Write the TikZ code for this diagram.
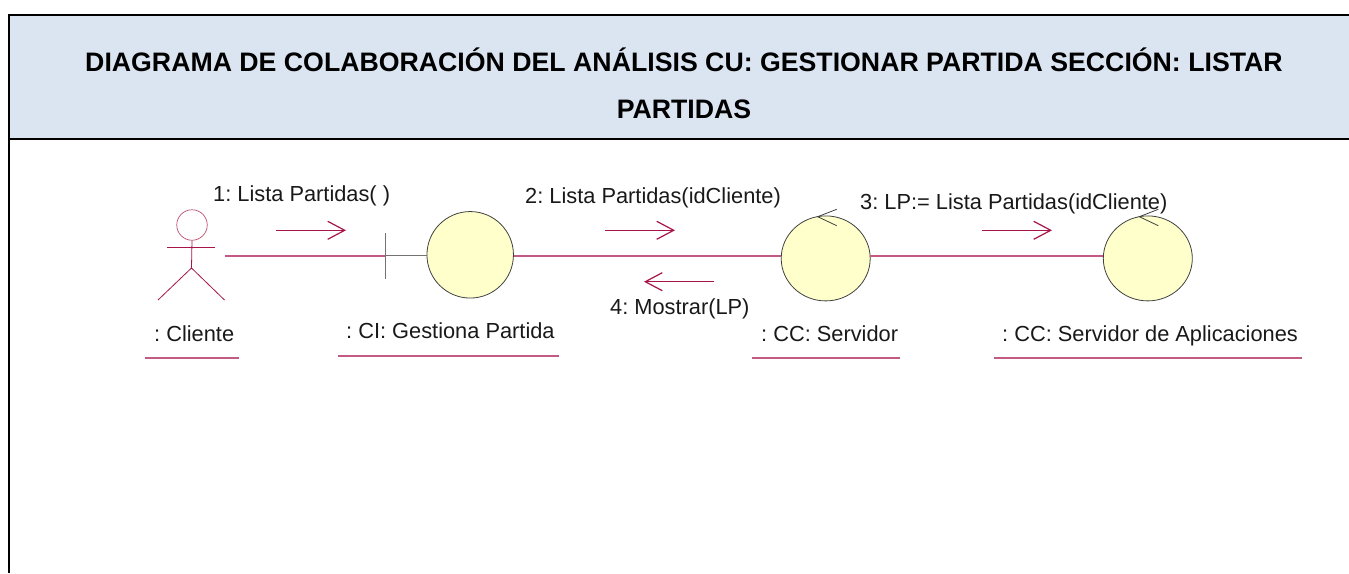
\documentclass[tikz,border=0pt]{standalone}
\usepackage{fontspec}
\setmainfont{Liberation Sans}
\frenchspacing
\usetikzlibrary{arrows.meta,shapes.geometric}
\definecolor{umlred}{HTML}{A6144A}
\definecolor{umllink}{HTML}{C25A84}
\definecolor{umlhead}{HTML}{C0506F}
\definecolor{umlfill}{HTML}{FFFFCC}
\definecolor{headfill}{HTML}{DBE5F1}
\tikzset{
  framebar/.style={line width=2pt,black},
  umlline/.style={draw=umllink,line width=1.5pt},
  msg/.style={draw=umlred,line width=1.2pt,-{Straight Barb[length=17pt,width=18pt,line width=1.2pt]}},
  objcircle/.style={ellipse,draw=black!75,line width=0.8pt,fill=umlfill,minimum width=86.5pt,minimum height=86.5pt,inner sep=0pt},
  ctrlcircle/.style={ellipse,draw=black!75,line width=0.8pt,fill=umlfill,minimum width=89pt,minimum height=85pt,inner sep=0pt},
  lbl/.style={anchor=base west,inner sep=0pt,font=\fontsize{21.8}{24}\selectfont,text=black!90},
  under/.style={draw=umllink,line width=1.3pt},
  actorline/.style={draw=umlred,line width=0.8pt},
  grayline/.style={draw=black!55,line width=1pt}
}
\begin{document}
\begin{tikzpicture}[x=1pt,y=-1pt]
\useasboundingbox (0,0) rectangle (1349,573);
% header
\fill[headfill] (9,14) rectangle (1349,138.5);
\draw[framebar] (1349,14.5) -- (9,14.5) -- (9,573);
\draw[framebar] (9,138.5) -- (1349,138.5);
\node[inner sep=0pt,align=center,anchor=center,font=\bfseries\fontsize{26.7}{47}\selectfont] (title) at (684,83)
  {DIAGRAMA DE COLABORACIÓN DEL ANÁLISIS CU: GESTIONAR PARTIDA SECCIÓN: LISTAR\\PARTIDAS};
% actor
\node[circle,draw=umlhead,line width=0.7pt,minimum size=30.5pt,inner sep=0pt] (head) at (192,225) {};
\coordinate (hip) at (191.5,268);
\coordinate (armL) at (167,247.5);
\coordinate (armR) at (215,247.5);
\coordinate (legL) at (158,300);
\coordinate (legR) at (224.5,300);
\draw[actorline] (head.south) -- (hip);
\draw[actorline] (armL) -- (armR);
\draw[actorline] (legL) -- (hip) -- (legR);
% objects
\node[objcircle] (ci) at (470.2,254.8) {};
\node[ctrlcircle] (srv) at (825.7,258.4) {};
\node[ctrlcircle] (app) at (1147.8,258.4) {};
\coordinate (actorend) at (225,255.8);
\coordinate (bar) at (385,255.8);
\coordinate (barT) at (385,233);
\coordinate (barB) at (385,279);
\coordinate (ciL) at (427,255.8);
\coordinate (ciR) at (513.5,255.8);
\coordinate (srvL) at (781.3,255.8);
\coordinate (srvR) at (870,255.8);
\coordinate (appL) at (1103.3,255.8);
\draw[umlline] (actorend) -- (bar);
\draw[grayline] (bar) -- (ciL);
\draw[grayline] (barT) -- (barB);
\draw[umlline] (ciR) -- (srvL);
\draw[umlline] (srvR) -- (appL);
% control arrows
\draw[draw=black!75,line width=0.8pt] (836.7,209.3) -- (817.7,216.7) -- (836.7,225.7);
\draw[draw=black!75,line width=0.8pt] (1158.3,209.3) -- (1139.3,216.7) -- (1158.3,225.7);
% messages
\coordinate (m1a) at (276,230.3); \coordinate (m1b) at (346,230.3);
\coordinate (m2a) at (605,230.3); \coordinate (m2b) at (675,230.3);
\coordinate (m3a) at (982,230.3); \coordinate (m3b) at (1052,230.3);
\coordinate (m4a) at (714,281.7); \coordinate (m4b) at (644,281.7);
\draw[msg] (m1a) -- (m1b);
\draw[msg] (m2a) -- (m2b);
\draw[msg] (m3a) -- (m3b);
\draw[msg] (m4a) -- (m4b);
% labels
\node[lbl] (l1) at (213,201) {1: Lista Partidas( )};
\node[lbl] (l2) at (525,203) {2: Lista Partidas(idCliente)};
\node[lbl] (l3) at (860,209) {3: LP:= Lista Partidas(idCliente)};
\node[lbl] (l4) at (610,314) {4: Mostrar(LP)};
\node[lbl] (n1) at (154,341.5) {: Cliente};
\node[lbl] (n2) at (346,338.5) {: CI: Gestiona Partida};
\node[lbl] (n3) at (761,341.5) {: CC: Servidor};
\node[lbl] (n4) at (1002,341.5) {: CC: Servidor de Aplicaciones};
% underlines
\coordinate (u1a) at (145,358); \coordinate (u1b) at (239,358);
\coordinate (u2a) at (338,356); \coordinate (u2b) at (559,356);
\coordinate (u3a) at (752,358); \coordinate (u3b) at (900,358);
\coordinate (u4a) at (994,358); \coordinate (u4b) at (1302,358);
\draw[under] (u1a) -- (u1b);
\draw[under] (u2a) -- (u2b);
\draw[under] (u3a) -- (u3b);
\draw[under] (u4a) -- (u4b);
\end{tikzpicture}
\end{document}
